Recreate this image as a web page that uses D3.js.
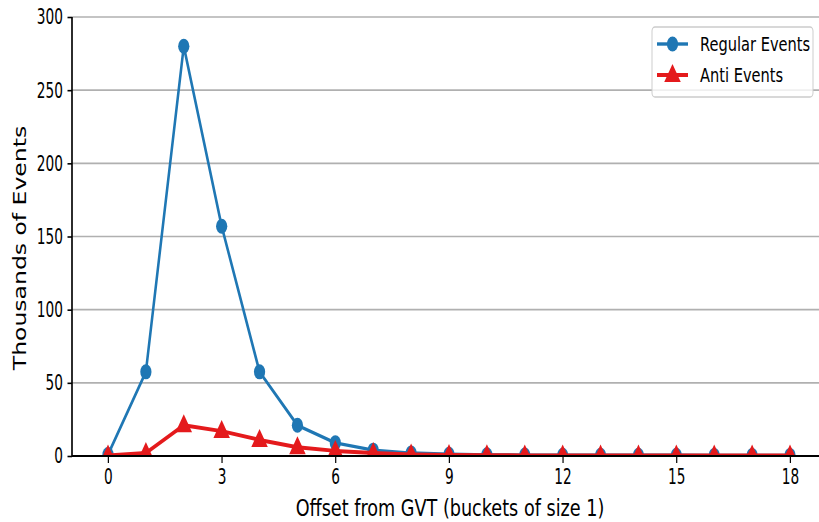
<!DOCTYPE html>
<html>
<head>
<meta charset="utf-8">
<script src="https://cdn.jsdelivr.net/npm/d3@7"></script>
<style>
  body { margin: 0; background: #fff; }
  svg { display: block; font-family: "DejaVu Sans", sans-serif; }
</style>
</head>
<body>
<script>
var width = 819;
var height = 522;
// the figure looks squeezed sideways, so draw in a wider space and scale x
var sx = 0.75;
var tickSquash = 0.85;

var offsets = d3.range(0, 19);
var regularEvents = [1, 57.5, 280, 157, 57.5, 21, 9, 4, 2, 1.2, 0.8, 0.6, 0.5, 0.5, 0.5, 0.5, 0.4, 0.4, 0.4];
var antiEvents = [0.3, 2, 21, 17, 11, 6, 3.5, 2, 1, 0.6, 0.5, 0.4, 0.4, 0.3, 0.3, 0.3, 0.3, 0.3, 0.3];
var yTicks = [0, 50, 100, 150, 200, 250, 300];
var xTicks = [0, 3, 6, 9, 12, 15, 18];
var seriesNames = ["Regular Events", "Anti Events"];
var blue = "#1f77b4", red = "#e41a1c";

var svg = d3.select("body").append("svg")
    .attr("width", width)
    .attr("height", height);

var g = svg.append("g")
    .attr("transform", "scale(" + sx + ",1)");

var x = d3.scaleLinear()
    .domain([-0.95, 18.95])
    .range([72 / sx, 826 / sx]);

var y = d3.scaleLinear()
    .domain([0, 300])
    .range([456, 17]);

svg.append("defs").append("clipPath")
    .attr("id", "plotclip")
  .append("rect")
    .attr("x", x(-0.95))
    .attr("y", y(300))
    .attr("width", x(18.95) - x(-0.95))
    .attr("height", y(0) - y(300));

// grid
g.append("g").selectAll("line")
    .data(yTicks.slice(1))
  .enter().append("line")
    .attr("x1", x(-0.95))
    .attr("x2", x(18.95))
    .attr("y1", function(d) { return y(d); })
    .attr("y2", function(d) { return y(d); })
    .style("stroke", "#b0b0b0")
    .style("stroke-width", 1.6);

var plot = g.append("g").attr("clip-path", "url(#plotclip)");

var line = d3.line()
    .x(function(d, i) { return x(offsets[i]); })
    .y(function(d) { return y(d); });

plot.append("path")
    .datum(regularEvents)
    .attr("d", line)
    .style("fill", "none")
    .style("stroke", blue)
    .style("stroke-width", 3.4)
    .style("stroke-linejoin", "round");

plot.selectAll(".dot")
    .data(regularEvents)
  .enter().append("circle")
    .attr("class", "dot")
    .attr("cx", function(d, i) { return x(offsets[i]); })
    .attr("cy", function(d) { return y(d); })
    .attr("r", 7.5)
    .style("fill", blue);

plot.append("path")
    .datum(antiEvents)
    .attr("d", line)
    .style("fill", "none")
    .style("stroke", red)
    .style("stroke-width", 4)
    .style("stroke-linejoin", "round");

// triangle marker, in the wide drawing space
var tri = "M0,-11L11,7L-11,7Z";

plot.selectAll(".tri")
    .data(antiEvents)
  .enter().append("path")
    .attr("class", "tri")
    .attr("d", tri)
    .attr("transform", function(d, i) { return "translate(" + x(offsets[i]) + "," + y(d) + ")"; })
    .style("fill", red);

// axes
var yAxis = d3.axisLeft(y).tickValues(yTicks).tickSize(6).tickPadding(4);
var xAxis = d3.axisBottom(x).tickValues(xTicks).tickSize(7).tickPadding(6);

var ya = g.append("g")
    .attr("class", "y axis")
    .attr("transform", "translate(" + x(-0.95) + ",0)")
    .call(yAxis);
var xa = g.append("g")
    .attr("class", "x axis")
    .attr("transform", "translate(0," + y(0) + ")")
    .call(xAxis);

g.selectAll(".axis .domain").style("stroke", "#000").style("stroke-width", 2.2);
g.selectAll(".axis .tick line").style("stroke", "#000").style("stroke-width", 1.6);
g.selectAll(".axis text")
    .style("font-family", "DejaVu Sans")
    .style("font-size", "21.5px")
    .style("fill", "#000")
    .attr("transform", "scale(" + tickSquash + ",1)");
ya.selectAll(".tick text").attr("x", -12 / tickSquash);
ya.select(".domain").attr("d", "M0," + y(0) + "V" + y(300));
xa.select(".domain").attr("d", "M" + x(-0.95) + ",0H" + x(18.95));

g.append("text")
    .attr("transform", "translate(" + (26 / sx) + "," + 248 + ") rotate(-90)")
    .style("text-anchor", "middle")
    .style("font-size", "23.5px")
    .text("Thousands of Events");

g.append("text")
    .attr("x", 450 / sx)
    .attr("y", 516)
    .style("text-anchor", "middle")
    .style("font-size", "23.5px")
    .text("Offset from GVT (buckets of size 1)");

// legend
var legend = g.append("g");
legend.append("rect")
    .attr("x", 652 / sx)
    .attr("y", 27)
    .attr("width", (813 - 652) / sx)
    .attr("height", 70)
    .attr("rx", 4)
    .style("fill", "#fff")
    .style("fill-opacity", 0.8)
    .style("stroke", "#cccccc")
    .style("stroke-width", 1.3);

var rows = legend.selectAll(".row")
    .data(seriesNames)
  .enter().append("g")
    .attr("class", "row")
    .attr("transform", function(d, i) { return "translate(0," + (44 + i * 31) + ")"; });

rows.append("line")
    .attr("x1", 657 / sx)
    .attr("x2", 688 / sx)
    .style("stroke", function(d, i) { return i == 0 ? blue : red; })
    .style("stroke-width", function(d, i) { return i == 0 ? 3.4 : 4; });

rows.each(function(d, i) {
  var cx = (657 + 688) / 2 / sx;
  if (i == 0) {
    d3.select(this).append("circle").attr("cx", cx).attr("r", 7.5).style("fill", blue);
  } else {
    d3.select(this).append("path").attr("d", tri)
      .attr("transform", "translate(" + cx + ",0)").style("fill", red);
  }
});

rows.append("text")
    .attr("x", 700 / sx)
    .attr("y", 7)
    .style("font-size", "19.5px")
    .text(function(d) { return d; });
</script>
</body>
</html>
